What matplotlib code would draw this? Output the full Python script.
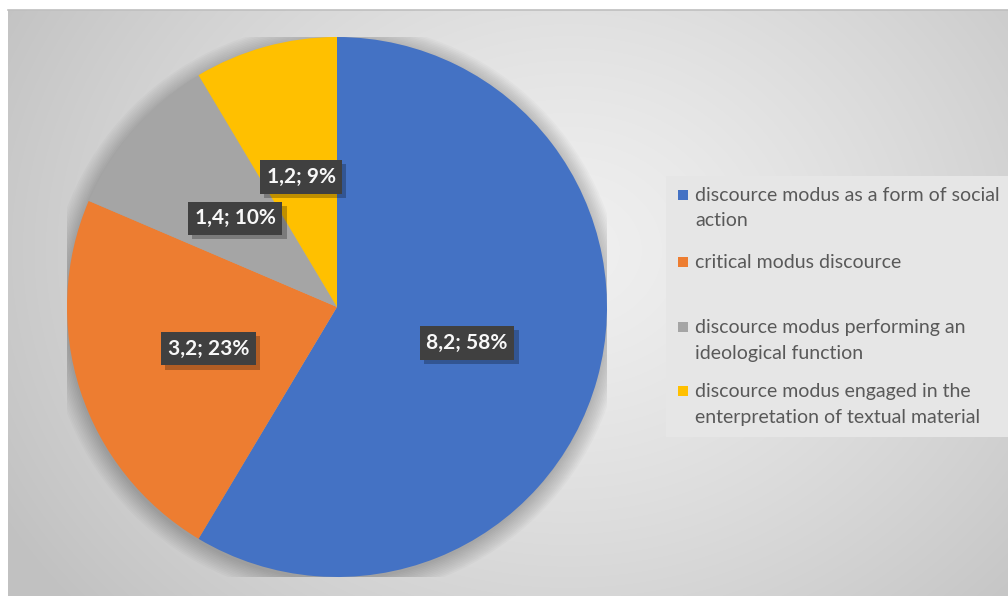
import numpy as np
import matplotlib.pyplot as plt
import matplotlib.patheffects as pe
from matplotlib.patches import Rectangle, Circle
from matplotlib.lines import Line2D

# data
labels = ['discource modus as a form of social\naction',
          'critical modus discource',
          'discource modus performing an\nideological function',
          'discource modus engaged in the\nenterpretation of textual material']
values = [8.2, 3.2, 1.4, 1.2]
value_text = ['8,2', '3,2', '1,4', '1,2']
pct_text = ['58%', '23%', '10%', '9%']
colors = ['#4472C4', '#ED7D31', '#A5A5A5', '#FFC000']

W, H = 1008, 596
fig = plt.figure(figsize=(W / 100, H / 100), dpi=100)

# chart area with radial gradient background
bg = fig.add_axes([8 / W, 0, 1000 / W, 586 / H])
yy, xx = np.mgrid[0:586, 0:1000]
d = np.sqrt(((xx - 560) / 620) ** 2 + ((yy - 240) / 520) ** 2)
g = np.clip(0.94 - 0.17 * d ** 1.3, 0.76, 0.95)
bg.imshow(np.dstack([g, g, g]), extent=[0, 1000, 586, 0], aspect='auto', zorder=0)
bg.set_xlim(0, 1000)
bg.set_ylim(586, 0)
bg.axis('off')
fig.add_artist(Line2D([8 / W, 1], [586 / H, 586 / H], color='#bfbfbf', lw=1.2))

# pie
cx, cy, r = 337, 307, 270
ax = fig.add_axes([(cx - r) / W, (H - cy - r) / H, 2 * r / W, 2 * r / H])
ax.set_facecolor('none')

# soft shadow under the pie
for i in range(12):
    ax.add_patch(Circle((-0.004, -0.012), 1 + 0.006 * i, color='black', alpha=0.02, lw=0, zorder=0))

wedges, _ = ax.pie(values, colors=colors, startangle=90, counterclock=False,
                   wedgeprops=dict(linewidth=0))
ax.set_xlim(-1, 1)
ax.set_ylim(-1, 1)

for w, v, p in zip(wedges, value_text, pct_text):
    ang = np.deg2rad((w.theta1 + w.theta2) / 2)
    x, y = 0.5 * np.cos(ang), 0.5 * np.sin(ang)
    t = ax.text(x, y, f'{v}; {p}', ha='center', va='center', fontsize=15,
                fontweight='bold', family='Lato', color='#f8f8f8', zorder=5,
                bbox=dict(boxstyle='square,pad=0.32', fc='#404040', ec='none'))
    t.get_bbox_patch().set_path_effects([
        pe.SimplePatchShadow(offset=(3, -3), shadow_rgbFace='black', alpha=0.25),
        pe.Normal()])

# legend
fig.add_artist(Rectangle((666 / W, (H - 437) / H), (W - 666) / W, 261 / H,
                         transform=fig.transFigure, fc='#e6e6e6', ec='none', zorder=1))
item_y = [195, 262, 327, 391]
for lab, col, y in zip(labels, colors, item_y):
    fig.add_artist(Rectangle((678 / W, (H - y - 5) / H), 10 / W, 10 / H,
                             transform=fig.transFigure, fc=col, ec='none', zorder=2))
    for i, line in enumerate(lab.split('\n')):
        fig.text(695 / W, (H - y - 26 * i) / H, line, ha='left', va='center',
                 fontsize=14, family='Lato', color='#595959', zorder=3)

fig.savefig('out.png', dpi=100)
